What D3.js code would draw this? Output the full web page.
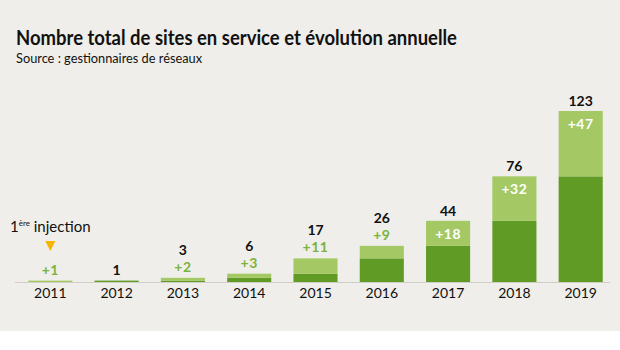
<!DOCTYPE html>
<html>
<head>
<meta charset="utf-8">
<script src="https://cdn.jsdelivr.net/npm/d3@7"></script>
<style>
  body { margin: 0; background: #fff; }
  #dataViz { width: 620px; height: 350px; }
  text { font-family: Lato, "Noto Sans", sans-serif; }
</style>
</head>
<body>
<div id="dataViz"></div>
<script>
const width = 620;
const height = 350;

// Data
const years = ["2011", "2012", "2013", "2014", "2015", "2016", "2017", "2018", "2019"];
const totals = [1, 1, 3, 6, 17, 26, 44, 76, 123];
const increments = [1, 0, 2, 3, 11, 9, 18, 32, 47];

const colours = {
  bg: "#efeeea",
  dark: "#5f9b25",
  light: "#a4c964",
  incText: "#7ab33c",
  text: "#111",
  axis: "#cfcfc8",
  marker: "#f5b400"
};

const data = years.map((y, i) => ({
  year: y,
  total: totals[i],
  inc: increments[i],
  prev: totals[i] - increments[i]
}));

const svg = d3.select("#dataViz").append("svg")
  .attr("width", width)
  .attr("height", height);

svg.append("rect")
  .attr("width", width)
  .attr("height", 331)
  .attr("fill", colours.bg);

// Title
svg.append("text")
  .attr("x", 16)
  .attr("y", 45)
  .attr("textLength", 441)
  .attr("lengthAdjust", "spacingAndGlyphs")
  .style("font-size", "20px")
  .style("font-weight", "bold")
  .attr("fill", colours.text)
  .text("Nombre total de sites en service et évolution annuelle");

svg.append("text")
  .attr("x", 16)
  .attr("y", 63)
  .attr("textLength", 186)
  .attr("lengthAdjust", "spacingAndGlyphs")
  .style("font-size", "13.5px")
  .attr("fill", colours.text)
  .text("Source : gestionnaires de réseaux");

// Scales
const xScale = d3.scaleBand()
  .domain(years)
  .range([17, 614])
  .paddingInner(0.335)
  .paddingOuter(0.17);

const yScale = d3.scaleLinear()
  .domain([0, 123])
  .range([282, 111]);

// Baseline
svg.append("line")
  .attr("x1", 15)
  .attr("x2", 610)
  .attr("y1", yScale(0) + 0.5)
  .attr("y2", yScale(0) + 0.5)
  .attr("stroke", colours.axis)
  .attr("stroke-width", 1);

// Previous total (dark) part
svg.selectAll(".bar-prev")
  .data(data)
  .enter()
  .append("rect")
  .attr("class", "bar-prev")
  .attr("x", d => xScale(d.year))
  .attr("y", d => yScale(d.prev))
  .attr("width", xScale.bandwidth())
  .attr("height", d => yScale(0) - yScale(d.prev))
  .attr("fill", colours.dark);

// Yearly increment (light) part
svg.selectAll(".bar-inc")
  .data(data)
  .enter()
  .append("rect")
  .attr("class", "bar-inc")
  .attr("x", d => xScale(d.year))
  .attr("y", d => yScale(d.total))
  .attr("width", xScale.bandwidth())
  .attr("height", d => yScale(d.prev) - yScale(d.total))
  .attr("fill", colours.light);

const cx = d => xScale(d.year) + xScale.bandwidth() / 2;
const big = d => d.total >= 40;

// Increment labels
svg.selectAll(".inc-label")
  .data(data.filter(d => d.inc > 0))
  .enter()
  .append("text")
  .attr("class", "inc-label")
  .attr("x", cx)
  .attr("y", d => big(d) ? yScale(d.total) + 18 : yScale(d.total) - 6)
  .attr("text-anchor", "middle")
  .style("font-size", "14px")
  .style("font-weight", "bold")
  .style("letter-spacing", "0.5px")
  .attr("fill", d => big(d) ? "#fff" : colours.incText)
  .text(d => "+" + d.inc);

// Total labels
svg.selectAll(".total-label")
  .data(data.filter(d => d.year !== "2011"))
  .enter()
  .append("text")
  .attr("class", "total-label")
  .attr("x", cx)
  .attr("y", d => {
    if (d.inc === 0) return yScale(d.total) - 6;
    return big(d) ? yScale(d.total) - 5 : yScale(d.total) - 23;
  })
  .attr("text-anchor", "middle")
  .style("font-size", "14px")
  .style("font-weight", "bold")
  .attr("fill", colours.text)
  .text(d => d.total);

// Year axis labels
svg.append("g")
  .attr("transform", `translate(0, ${yScale(0)})`)
  .call(d3.axisBottom(xScale).tickSize(0).tickPadding(6))
  .call(g => g.select(".domain").remove())
  .selectAll("text")
  .style("font-size", "14px")
  .style("font-family", "Lato, sans-serif")
  .attr("fill", colours.text);

// First injection marker
const first = data[0];
const mx = cx(first);
svg.append("path")
  .attr("d", `M${mx - 5},241 L${mx + 5},241 L${mx},251 Z`)
  .attr("fill", colours.marker);

const note = svg.append("text")
  .attr("x", 10)
  .attr("y", 232)
  .style("font-size", "15px")
  .attr("fill", colours.text);
note.append("tspan").text("1");
note.append("tspan").attr("dy", -6).style("font-size", "8px").text("ère");
note.append("tspan").attr("dy", 6).text(" injection");
</script>
</body>
</html>
